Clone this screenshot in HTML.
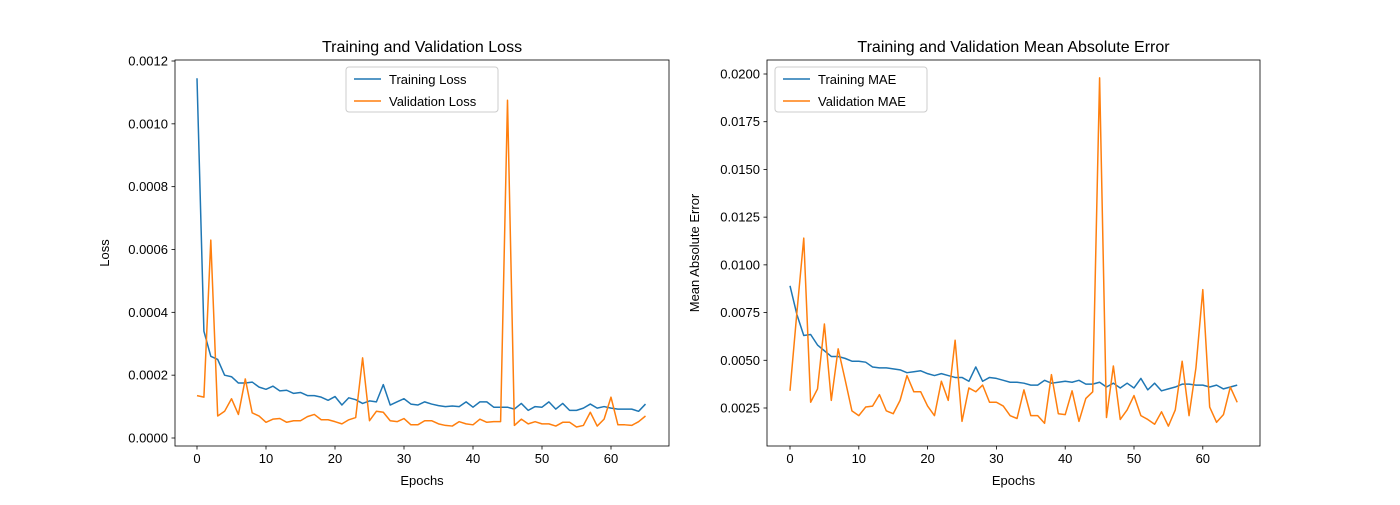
<!DOCTYPE html>
<html><head><meta charset="utf-8"><style>
body{margin:0;background:#fff;}
svg text{font-family:"Liberation Sans","DejaVu Sans",sans-serif;fill:#000;}
</style></head><body>
<svg id="c" width="1400" height="500" xmlns="http://www.w3.org/2000/svg"></svg>
<script>
const epochs = Array.from({length:66},(_,i)=>i);
const trainLoss = [11.45,3.4,2.6,2.5,2.0,1.95,1.75,1.75,1.78,1.62,1.55,1.65,1.5,1.52,1.42,1.45,1.35,1.35,1.3,1.2,1.32,1.05,1.28,1.22,1.1,1.18,1.15,1.7,1.05,1.15,1.25,1.08,1.05,1.15,1.08,1.03,1.0,1.02,1.0,1.15,0.98,1.15,1.15,0.98,0.98,0.98,0.92,1.1,0.88,1.0,0.98,1.15,0.92,1.1,0.88,0.88,0.95,1.08,0.95,1.0,0.95,0.92,0.92,0.92,0.85,1.08].map(v=>v*1e-4);
const valLoss = [1.35,1.3,6.3,0.7,0.85,1.25,0.75,1.88,0.8,0.7,0.5,0.6,0.62,0.5,0.55,0.55,0.68,0.75,0.58,0.58,0.52,0.45,0.58,0.65,2.55,0.55,0.85,0.82,0.55,0.52,0.62,0.42,0.42,0.55,0.55,0.45,0.4,0.38,0.52,0.45,0.42,0.6,0.5,0.52,0.52,10.75,0.4,0.6,0.45,0.52,0.45,0.45,0.38,0.5,0.5,0.35,0.4,0.82,0.38,0.6,1.3,0.42,0.42,0.4,0.52,0.7].map(v=>v*1e-4);
const trainMAE = [8.9,7.4,6.3,6.35,5.8,5.5,5.2,5.2,5.1,4.95,4.95,4.9,4.65,4.6,4.6,4.55,4.5,4.35,4.4,4.45,4.3,4.2,4.3,4.2,4.1,4.1,3.9,4.65,3.9,4.1,4.05,3.95,3.85,3.85,3.8,3.7,3.7,3.95,3.8,3.85,3.9,3.85,3.95,3.75,3.75,3.85,3.6,3.8,3.55,3.8,3.55,4.05,3.45,3.8,3.4,3.5,3.6,3.75,3.75,3.7,3.7,3.6,3.7,3.5,3.6,3.7].map(v=>v*1e-3);
const valMAE = [3.4,7.5,11.4,2.8,3.5,6.9,2.9,5.6,4.0,2.35,2.1,2.55,2.6,3.2,2.35,2.2,2.9,4.2,3.35,3.35,2.6,2.1,3.9,2.9,6.05,1.8,3.55,3.35,3.7,2.8,2.8,2.6,2.1,1.95,3.45,2.1,2.1,1.7,4.25,2.2,2.15,3.4,1.8,3.0,3.35,19.8,2.0,4.7,1.9,2.4,3.15,2.1,1.9,1.65,2.3,1.55,2.4,4.95,2.1,4.6,8.7,2.55,1.75,2.15,3.6,2.8].map(v=>v*1e-3);
const xTicks = [0,10,20,30,40,50,60];
const yTicksLoss = [0,0.0002,0.0004,0.0006,0.0008,0.0010,0.0012];
const yTicksMAE = [0.0025,0.0050,0.0075,0.0100,0.0125,0.0150,0.0175,0.0200];

const svg=document.getElementById('c');
const NS='http://www.w3.org/2000/svg';
function mk(tag,attrs,parent){const e=document.createElementNS(NS,tag);for(const k in attrs)e.setAttribute(k,attrs[k]);(parent||svg).appendChild(e);return e;}

function panel(p){
  const g=mk('g',{});
  
  
  const X=e=>p.x0+(e-p.e0)*p.xs, Y=v=>p.y0-(v-p.v0)*p.ys;
  // series
  p.series.forEach(s=>{
    const pts=epochs.map((e,i)=>X(e).toFixed(2)+','+Y(s.data[i]).toFixed(2)).join(' ');
    const pl=mk('polyline',{points:pts,fill:'none',stroke:s.color,'stroke-width':1.5,'stroke-linejoin':'round'},g);
    
    
  });
  const fr=mk('rect',{x:p.L,y:p.T,width:p.R-p.L,height:p.B-p.T,fill:'none',stroke:'#000','stroke-width':0.8},g);
  
  
  xTicks.forEach(t=>{
    const x=X(t);
    mk('line',{x1:x,x2:x,y1:p.B,y2:p.B+3.5,stroke:'#000','stroke-width':0.8},g);
    const tx=mk('text',{x:x,y:p.B+17,'font-size':13,'text-anchor':'middle'},g);
    tx.textContent=t;
    
    
  });
  p.yTicks.forEach(t=>{
    const y=Y(t);
    mk('line',{x1:p.L-3.5,x2:p.L,y1:y,y2:y,stroke:'#000','stroke-width':0.8},g);
    const tx=mk('text',{x:p.L-7,y:y+4.5,'font-size':13,'text-anchor':'end'},g);
    tx.textContent=t.toFixed(4);
    
    
  });
  const ti=mk('text',{x:(p.L+p.R)/2,y:p.T-8,'font-size':16,'text-anchor':'middle'},g);
  ti.textContent=p.title;
  
  
  const xl=mk('text',{x:(p.L+p.R)/2,y:485,'font-size':13,'text-anchor':'middle'},g);
  xl.textContent='Epochs';
  
  
  const yl=mk('text',{x:0,y:0,'font-size':13,'text-anchor':'middle',transform:`translate(${p.ylx},${(p.T+p.B)/2}) rotate(-90)`},g);
  yl.textContent=p.ylabel;
  
  
  // legend
  const lg=mk('g',{},g);
  
  
  mk('rect',{x:p.lx,y:67,width:p.lw,height:45,rx:3,fill:'#fff','fill-opacity':0.8,stroke:'#ccc'},lg);
  p.series.forEach((s,i)=>{
    const y=79+i*22;
    mk('line',{x1:p.lx+8,x2:p.lx+35,y1:y,y2:y,stroke:s.color,'stroke-width':1.5},lg);
    const t=mk('text',{x:p.lx+43,y:y+5,'font-size':13},lg);
    t.textContent=s.label;
    
    
  });
}
panel({name:'loss-chart',L:175,R:669,T:60,B:446,x0:197,e0:0,xs:6.9,y0:438,v0:0,ys:377/0.0012,
  yTicks:yTicksLoss,title:'Training and Validation Loss',ylabel:'Loss',ylx:109,lx:346,lw:152,
  series:[{id:'training-loss-line',data:trainLoss,color:'#1f77b4',label:'Training Loss'},
          {id:'validation-loss-line',data:valLoss,color:'#ff7f0e',label:'Validation Loss'}]});
panel({name:'mae-chart',L:767,R:1260,T:60,B:446,x0:790,e0:0,xs:6.88,y0:408,v0:0.0025,ys:334/0.0175,
  yTicks:yTicksMAE,title:'Training and Validation Mean Absolute Error',ylabel:'Mean Absolute Error',ylx:699,lx:775,lw:152,
  series:[{id:'training-mae-line',data:trainMAE,color:'#1f77b4',label:'Training MAE'},
          {id:'validation-mae-line',data:valMAE,color:'#ff7f0e',label:'Validation MAE'}]});
</script>
</body></html>
